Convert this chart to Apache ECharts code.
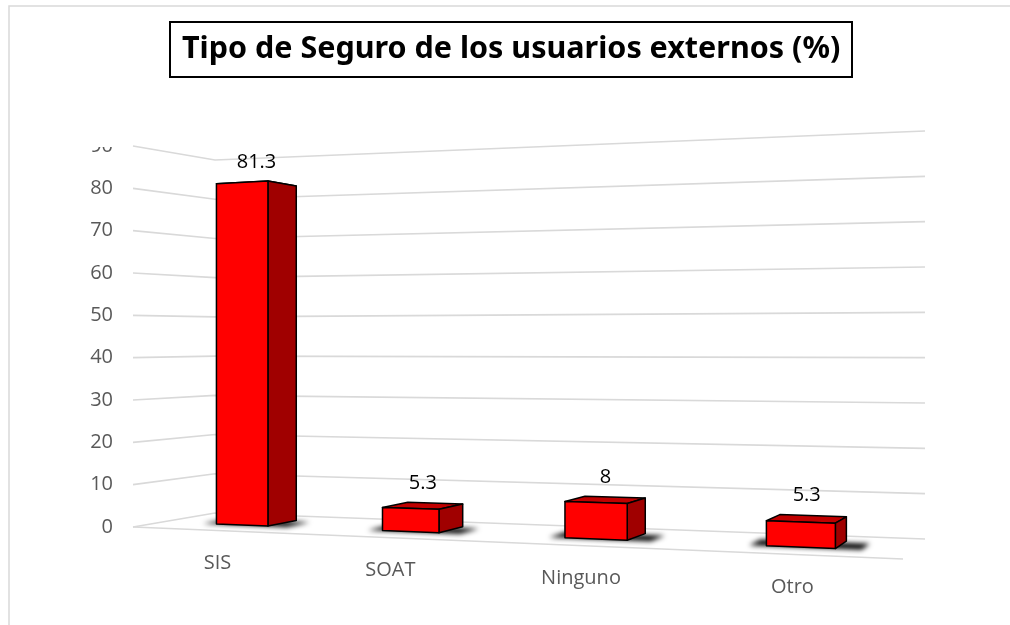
<!DOCTYPE html>
<html>
<head>
<meta charset="utf-8">
<script src="https://cdn.jsdelivr.net/npm/echarts@6/dist/echarts.min.js"></script>
<style>
  html, body { margin: 0; padding: 0; background: #fff; }
  #main { width: 1010px; height: 625px; }
</style>
</head>
<body>
<div id="main"></div>
<script>
var categories = ['SIS', 'SOAT', 'Ninguno', 'Otro'];
var values = [81.3, 5.3, 8, 5.3];
var yTicks = [0, 10, 20, 30, 40, 50, 60, 70, 80, 90];

// floor corners of the 3d box (back-left, back-right, front-right, front-left)
var FLOOR = [[215, 513], [925, 539], [903, 559], [133, 527]];
// pixel height of the full 0-90 range at back / front, left / right
var HB = [353, 408];
var HF = [381, 450];
var BAR_FRAC = 0.32, D_BACK = 0.27, D_FRONT = 0.65;
var SHIFT = 3000; // shadow shape drawn off-canvas, only its blur is shown

// unit square -> floor quad homography
function makeH(q) {
  var x0 = q[0][0], y0 = q[0][1], x1 = q[1][0], y1 = q[1][1];
  var x2 = q[2][0], y2 = q[2][1], x3 = q[3][0], y3 = q[3][1];
  var dx1 = x1 - x2, dx2 = x3 - x2, dx3 = x0 - x1 + x2 - x3;
  var dy1 = y1 - y2, dy2 = y3 - y2, dy3 = y0 - y1 + y2 - y3;
  var det = dx1 * dy2 - dx2 * dy1;
  var g = (dx3 * dy2 - dx2 * dy3) / det;
  var h = (dx1 * dy3 - dx3 * dy1) / det;
  return {
    a: x1 - x0 + g * x1, b: x3 - x0 + h * x3, c: x0,
    d: y1 - y0 + g * y1, e: y3 - y0 + h * y3, f: y0, g: g, h: h
  };
}
var H = makeH(FLOOR);

function proj(u, v, d) {
  var w = H.g * u + H.h * d + 1;
  var x = (H.a * u + H.b * d + H.c) / w;
  var y = (H.d * u + H.e * d + H.f) / w;
  var hb = HB[0] + (HB[1] - HB[0]) * u;
  var hf = HF[0] + (HF[1] - HF[0]) * u;
  return [x, y - v * (hb + (hf - hb) * d)];
}

function renderGrid(params, api) {
  var cs = params.coordSys;
  var p = api.coord([0, api.value(1)]);
  var v = (cs.y + cs.height - p[1]) / cs.height;
  var style = { stroke: '#d9d9d9', lineWidth: 1.6, fill: null };
  var children = [{
    type: 'polyline',
    shape: { points: [proj(0, v, 1), proj(0, v, 0), proj(1, v, 0)] },
    style: style
  }];
  if (api.value(1) === 0) {
    children.push({
      type: 'line',
      shape: { x1: proj(0, 0, 1)[0], y1: proj(0, 0, 1)[1], x2: proj(1, 0, 1)[0], y2: proj(1, 0, 1)[1] },
      style: style
    });
  }
  return { type: 'group', children: children };
}

function renderBar(params, api) {
  var cs = params.coordSys;
  var top = api.coord([api.value(0), api.value(1)]);
  var band = api.size([1, 0])[0];
  var uc = (top[0] - cs.x) / cs.width;
  var hw = band * BAR_FRAC / 2 / cs.width;
  var v = (cs.y + cs.height - top[1]) / cs.height;
  var u0 = uc - hw, u1 = uc + hw, d0 = D_BACK, d1 = D_FRONT;
  var edge = { stroke: '#000', lineWidth: 1.5, lineJoin: 'round' };
  function face(pts, fill) {
    return { type: 'polygon', shape: { points: pts }, style: Object.assign({ fill: fill }, edge) };
  }
  var shadowPts = [proj(u0 - 0.02, 0, d1 + 0.01), proj(u1 + 0.03, 0, d1 + 0.01), proj(u1 + 0.03, 0, d0 + 0.08), proj(u0 - 0.02, 0, d0 + 0.08)]
    .map(function (p) { return [p[0] - SHIFT, p[1]]; });
  var ft = proj(uc, v, d1), bt = proj(uc, v, d0);
  var lab = proj(uc, 0, 1);
  return {
    type: 'group',
    children: [
      {
        type: 'polygon',
        shape: { points: shadowPts },
        style: { fill: '#000', shadowBlur: 5, shadowOffsetX: SHIFT, shadowColor: 'rgba(0,0,0,1)' }
      },
      face([proj(u0, v, d1), proj(u1, v, d1), proj(u1, v, d0), proj(u0, v, d0)], '#C00000'),
      face([proj(u1, 0, d1), proj(u1, 0, d0), proj(u1, v, d0), proj(u1, v, d1)], '#A00000'),
      face([proj(u0, 0, d1), proj(u1, 0, d1), proj(u1, v, d1), proj(u0, v, d1)], '#FF0000'),
      {
        type: 'text',
        style: {
          text: String(values[params.dataIndex]),
          x: (ft[0] + bt[0]) / 2, y: Math.min(ft[1], bt[1]) - 10,
          fill: '#000', font: '20px "Open Sans"', align: 'center', verticalAlign: 'bottom'
        }
      },
      {
        type: 'text',
        style: {
          text: categories[params.dataIndex],
          x: lab[0] + 4, y: lab[1] + 33,
          fill: '#595959', font: '20px "Open Sans"', align: 'center', verticalAlign: 'middle'
        }
      }
    ]
  };
}

var chart = echarts.init(document.getElementById('main'));
chart.setOption({
  animation: false,
  title: {
    text: 'Tipo de Seguro de los usuarios externos (%)',
    left: 170, top: 22,
    padding: [6, 12],
    borderColor: '#000', borderWidth: 2,
    textStyle: { fontFamily: '"Noto Sans"', fontWeight: 'bold', fontSize: 30.5, lineHeight: 43, color: '#000' }
  },
  grid: { left: 133, right: 85, top: 146, bottom: 98 },
  xAxis: { type: 'category', data: categories, show: false },
  yAxis: {
    type: 'value', min: 0, max: 90, interval: 10,
    axisLine: { show: false }, axisTick: { show: false }, splitLine: { show: false },
    axisLabel: { color: '#595959', fontSize: 20, fontFamily: 'Open Sans', margin: 20 }
  },
  graphic: [
    { type: 'rect', shape: { x: 9, y: 6, width: 1010, height: 630 }, style: { fill: null, stroke: '#d9d9d9', lineWidth: 1.5 }, z: 0 },
    { type: 'rect', shape: { x: 70, y: 120, width: 58, height: 27 }, style: { fill: '#fff' }, z: 100 }
  ],
  series: [
    {
      type: 'custom', clip: false, z: 1,
      renderItem: renderGrid,
      data: yTicks.map(function (t) { return [0, t]; })
    },
    {
      type: 'custom', clip: false, z: 2,
      renderItem: renderBar,
      data: values.map(function (v, i) { return [i, v]; })
    }
  ]
});
</script>
</body>
</html>
